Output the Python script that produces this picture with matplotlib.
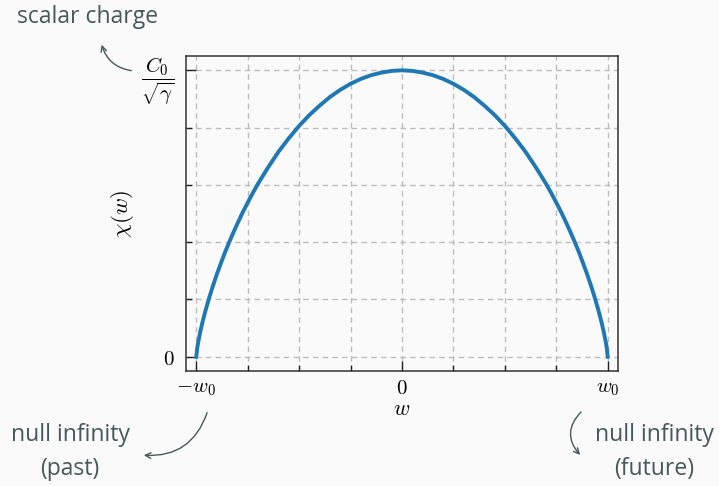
import numpy as np
import matplotlib
matplotlib.use("Agg")
import matplotlib.pyplot as plt
from matplotlib.patches import FancyArrowPatch
from matplotlib.ticker import FixedLocator

plt.rcParams['mathtext.fontset'] = 'cm'

# values (w in units of w0, chi in units of C0/sqrt(gamma))
# the curve is symmetric about w = 0, so one half is read and mirrored
w_half = [0.0, 0.05, 0.10, 0.15, 0.20, 0.25, 0.30, 0.35, 0.40, 0.45, 0.50,
          0.55, 0.60, 0.65, 0.70, 0.725, 0.75, 0.775, 0.80, 0.82, 0.84,
          0.86, 0.88, 0.90, 0.92, 0.935, 0.95, 0.96, 0.97, 0.98, 0.99,
          0.995, 1.0]
chi_half = [1.0, 0.998, 0.992, 0.983, 0.970, 0.953, 0.932, 0.907, 0.877,
            0.844, 0.806, 0.763, 0.716, 0.662, 0.604, 0.572, 0.538, 0.503,
            0.465, 0.433, 0.400, 0.365, 0.327, 0.288, 0.245, 0.211, 0.174,
            0.148, 0.120, 0.089, 0.053, 0.032, 0.0]

w_vals = [-w for w in reversed(w_half)] + w_half[1:]
chi_vals = list(reversed(chi_half)) + chi_half[1:]

x_major = [-1, 0, 1]
x_major_labels = [r'$-w_0$', r'$0$', r'$w_0$']
x_minor = [-0.75, -0.5, -0.25, 0.25, 0.5, 0.75]
y_major = [0, 1]
y_major_labels = [r'$0$', r'$\dfrac{C_0}{\sqrt{\gamma}}$']
y_minor = [0.2, 0.4, 0.6, 0.8]

bg = '#fafafa'
txt_col = '#465858'

fig = plt.figure(figsize=(7.19, 4.86), dpi=100, facecolor=bg)
ax = fig.add_axes([186/719, 1-371/486, 432/719, 315/486], facecolor=bg)

ax.plot(w_vals, chi_vals, color='#1f77b4', lw=2.8)
ax.set_xlim(-1.05, 1.05)
ax.set_ylim(-0.05, 1.05)

ax.xaxis.set_major_locator(FixedLocator(x_major))
ax.set_xticklabels(x_major_labels)
ax.xaxis.set_minor_locator(FixedLocator(x_minor))
ax.yaxis.set_major_locator(FixedLocator(y_major))
ax.set_yticklabels(y_major_labels)
ax.yaxis.set_minor_locator(FixedLocator(y_minor))

ax.tick_params(which='major', direction='in', length=7, width=1, labelsize=15, color='#222222')
ax.tick_params(which='minor', direction='in', length=4, width=1, color='#222222')
ax.tick_params(axis='y', which='major', pad=8)
ax.tick_params(axis='x', which='major', pad=5)
ax.grid(True, which='both', ls=(0, (4, 3)), color='#bdbdbd', lw=1)
for s in ax.spines.values():
    s.set_color('#333333')
    s.set_linewidth(1.1)

ax.set_xlabel(r'$w$', fontsize=16, labelpad=1)
ax.set_ylabel(r'$\chi(w)$', fontsize=16.5, labelpad=4)

# annotations placed in figure pixels (top-left origin)
def fp(x, y):
    return (x/719, 1 - y/486)

tfont = dict(family=['Open Sans', 'DejaVu Sans'], fontsize=16.5, color=txt_col)
fig.text(*fp(88, 17), 'scalar charge', ha='center', va='center', **tfont)
fig.text(*fp(70, 452), 'null infinity\n(past)', ha='center', va='center',
         multialignment='center', linespacing=1.55, **tfont)
fig.text(*fp(654, 452), 'null infinity\n(future)', ha='center', va='center',
         multialignment='center', linespacing=1.55, **tfont)

ap = dict(arrowstyle='->', color=txt_col, lw=1, mutation_scale=10)
fig.add_artist(FancyArrowPatch(fp(134, 71), fp(101, 42), transform=fig.transFigure,
                               connectionstyle='arc3,rad=-0.35', **ap))
fig.add_artist(FancyArrowPatch(fp(208, 410), fp(141, 455), transform=fig.transFigure,
                               connectionstyle='arc3,rad=-0.4', **ap))
fig.add_artist(FancyArrowPatch(fp(583, 410), fp(582, 457), transform=fig.transFigure,
                               connectionstyle='arc3,rad=0.5', **ap))

fig.savefig('out.png', dpi=100, facecolor=bg)
